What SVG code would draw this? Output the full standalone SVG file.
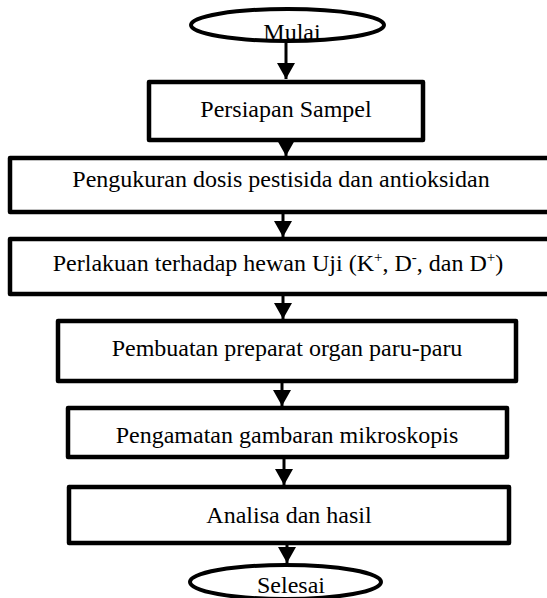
<svg xmlns="http://www.w3.org/2000/svg" width="547" height="598" viewBox="0 0 547 598">
<style>
.box{fill:#fff;stroke:#000;stroke-width:4.5;stroke-linejoin:round}
.term{fill:#fff;stroke:#000;stroke-width:4}
.lbl{font-family:"Liberation Serif","Times New Roman",serif;font-size:24px;fill:#000;text-anchor:middle}
.sup{font-size:15px}
.con{stroke:#000;stroke-width:3;fill:none;marker-end:url(#ah)}
</style>
<defs>
<marker id="ah" markerUnits="userSpaceOnUse" markerWidth="17" markerHeight="18" refX="16" refY="9" orient="auto">
<path d="M0,0 L16,9 L0,18 z" fill="#000"/>
</marker>
</defs>
<rect width="547" height="598" fill="#fff"/>
<g id="connectors">
<path class="con" d="M286,43 V79"/>
<path class="con" d="M286,142 V156"/>
<path class="con" d="M283,214 V237"/>
<path class="con" d="M283,296 V319"/>
<path class="con" d="M282,383 V406"/>
<path class="con" d="M284,459 V485"/>
<path class="con" d="M287,545 V563"/>
</g>
<g id="n_mulai">
<ellipse class="term" cx="287.5" cy="25" rx="96.5" ry="16"/>
<text class="lbl" x="292" y="40">Mulai</text>
</g>
<g id="n_persiapan">
<rect class="box" x="149" y="82" width="274" height="58"/>
<text class="lbl" x="286" y="117">Persiapan Sampel</text>
</g>
<g id="n_pengukuran">
<rect class="box" x="10" y="158" width="560" height="54"/>
<text class="lbl" x="281" y="187">Pengukuran dosis pestisida dan antioksidan</text>
</g>
<g id="n_perlakuan">
<rect class="box" x="10" y="239" width="560" height="55"/>
<text class="lbl" x="278" y="271">Perlakuan terhadap hewan Uji (K<tspan class="sup" dy="-9">+</tspan><tspan dy="9">, D</tspan><tspan class="sup" dy="-9">-</tspan><tspan dy="9">, dan D</tspan><tspan class="sup" dy="-9">+</tspan><tspan dy="9">)</tspan></text>
</g>
<g id="n_pembuatan">
<rect class="box" x="58" y="321" width="458" height="60"/>
<text class="lbl" x="287" y="356">Pembuatan preparat organ paru-paru</text>
</g>
<g id="n_pengamatan">
<rect class="box" x="68" y="408" width="439" height="49"/>
<text class="lbl" x="287" y="443">Pengamatan gambaran mikroskopis</text>
</g>
<g id="n_analisa">
<rect class="box" x="69" y="487" width="440" height="56"/>
<text class="lbl" x="289" y="523">Analisa dan hasil</text>
</g>
<g id="n_selesai">
<ellipse class="term" cx="285.5" cy="582" rx="95.5" ry="17"/>
<text class="lbl" x="291" y="593">Selesai</text>
</g>
</svg>
